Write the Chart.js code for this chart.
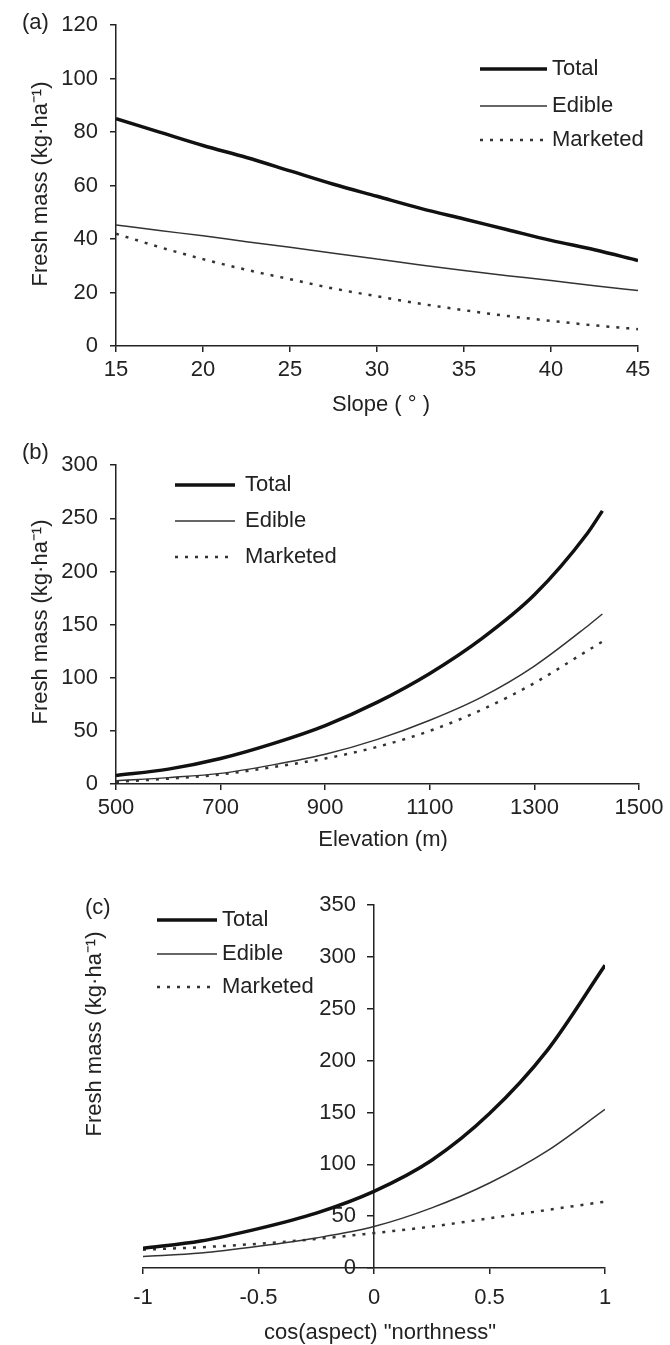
<!DOCTYPE html>
<html><head><meta charset="utf-8">
<script src="https://cdn.jsdelivr.net/npm/chart.js@4.4.1/dist/chart.umd.min.js"></script>
<style>
html,body{margin:0;padding:0;background:#fff;}
#wrap{position:relative;width:670px;height:1345px;background:#fff;}
canvas{position:absolute;left:0;}
</style></head><body>
<div id="wrap">
<canvas id="ca" width="670" height="440" style="top:0px"></canvas>
<canvas id="cb" width="670" height="440" style="top:440px"></canvas>
<canvas id="cc" width="670" height="465" style="top:880px"></canvas>
</div>
<script>
// ---- shared
const seriesNames = ['Total', 'Edible', 'Marketed'];
const yTitle = 'Fresh mass (kg·ha⁻¹)';

// ---- (a) slope
const slopeX = [15, 17.5, 20, 22.5, 25, 27.5, 30, 32.5, 35, 37.5, 40, 42.5, 45];
const slopeTotal = [85, 80, 75, 70.5, 65.5, 60.5, 56, 51.5, 47.5, 43.5, 39.5, 36, 32];
const slopeEdible = [45.3, 43.2, 41.2, 39, 36.9, 34.7, 32.5, 30.3, 28.2, 26.3, 24.5, 22.5, 20.8];
const slopeMarketed = [42, 37, 32.5, 28.5, 25, 21.5, 18.6, 15.8, 13.4, 11.2, 9.4, 7.7, 6.3];
const slopeTicksX = [15, 20, 25, 30, 35, 40, 45];
const slopeTicksY = [0, 20, 40, 60, 80, 100, 120];

// ---- (b) elevation
const elevX = [500, 600, 700, 800, 900, 1000, 1100, 1200, 1300, 1400, 1430];
const elevTotal = [8, 14, 24, 38, 55, 77, 104, 137, 178, 235, 257];
const elevEdible = [3, 6, 10, 18, 28, 42, 60, 82, 111, 148, 160];
const elevMarketed = [2, 5, 9, 16, 24, 35, 50, 70, 95, 125, 134];
const elevTicksX = [500, 700, 900, 1100, 1300, 1500];
const elevTicksY = [0, 50, 100, 150, 200, 250, 300];

// ---- (c) northness
const northX = [-1, -0.75, -0.5, -0.25, 0, 0.25, 0.5, 0.75, 1];
const northTotal = [19, 26, 38, 53, 74, 104, 149, 210, 292];
const northEdible = [11, 14.5, 21, 29, 40, 58, 82, 113, 153];
const northMarketed = [17.7, 20, 23.4, 28, 33.7, 40, 48, 56, 64];
const northTicksX = [-1, -0.5, 0, 0.5, 1];
const northTicksY = [0, 50, 100, 150, 200, 250, 300, 350];

const FONT = "'Liberation Sans', Arial, sans-serif";
Chart.defaults.font.family = FONT;
Chart.defaults.font.size = 22;
Chart.defaults.color = '#222';

const styles = [
  {borderColor: '#111', borderWidth: 3.5, borderDash: []},
  {borderColor: '#333', borderWidth: 1.5, borderDash: []},
  {borderColor: '#333', borderWidth: 2.5, borderDash: [3, 7]}
];

function datasets(xs, series) {
  return series.map((ys, i) => Object.assign({
    label: seriesNames[i],
    data: xs.map((x, j) => ({x: x, y: ys[j]})),
    pointRadius: 0,
    fill: false,
    cubicInterpolationMode: 'monotone'
  }, styles[i]));
}

const annot = {
  id: 'annot',
  afterDraw(chart, args, o) {
    const ctx = chart.ctx;
    ctx.save();
    ctx.fillStyle = '#222';
    ctx.font = '22px ' + FONT;
    ctx.textBaseline = 'middle';
    ctx.textAlign = 'left';
    ctx.fillText(o.panel, o.panelX, o.panelY);
    ctx.textAlign = 'center';
    ctx.fillText(o.xTitle, o.xTitleX, o.xTitleY);
    ctx.save();
    ctx.translate(o.yTitleX, o.yTitleY);
    ctx.rotate(-Math.PI / 2);
    ctx.fillText(yTitle, 0, 0);
    ctx.restore();
    chart.data.datasets.forEach((ds, i) => {
      const y = o.legY[i];
      ctx.save();
      ctx.strokeStyle = ds.borderColor;
      ctx.lineWidth = ds.borderWidth;
      ctx.setLineDash(ds.borderDash || []);
      ctx.beginPath();
      ctx.moveTo(o.legX0, y);
      ctx.lineTo(o.legX1, y);
      ctx.stroke();
      ctx.restore();
      ctx.textAlign = 'left';
      ctx.fillText(ds.label, o.legTextX, y);
    });
    ctx.restore();
  }
};

function axisCommon(ticksArr, extra) {
  return Object.assign({
    type: 'linear',
    afterBuildTicks: s => { s.ticks = ticksArr.map(v => ({value: v})); },
    grid: {display: true, drawOnChartArea: false, drawTicks: true, tickLength: 6, color: '#222', lineWidth: 1.5},
    border: {display: true, color: '#222', width: 1.5},
    ticks: {color: '#222', font: {size: 22}, callback: v => String(v), autoSkip: false, maxRotation: 0}
  }, extra);
}

function makeChart(id, xs, series, xr, yr, tx, ty, scaleX, scaleY, padding, annotOpts) {
  const sx = axisCommon(tx, Object.assign({min: xr[0], max: xr[1]}, scaleX));
  sx.ticks = Object.assign({}, sx.ticks, scaleX.ticksExtra || {});
  const sy = axisCommon(ty, Object.assign({min: yr[0], max: yr[1]}, scaleY));
  sy.ticks = Object.assign({}, sy.ticks, scaleY.ticksExtra || {});
  delete sx.ticksExtra; delete sy.ticksExtra;
  return new Chart(document.getElementById(id), {
    type: 'line',
    data: {datasets: datasets(xs, series)},
    options: {
      responsive: false,
      animation: false,
      devicePixelRatio: 1,
      layout: {padding: padding},
      plugins: {legend: {display: false}, tooltip: {enabled: false}, annot: annotOpts},
      scales: {x: sx, y: sy}
    },
    plugins: [annot]
  });
}

makeChart('ca', slopeX, [slopeTotal, slopeEdible, slopeMarketed], [15, 45], [0, 120], slopeTicksX, slopeTicksY,
  {afterFit: s => { s.height = 94; }, ticksExtra: {padding: 5}},
  {afterFit: s => { s.width = 116; }, ticksExtra: {padding: 12}},
  {left: 0, top: 23, right: 32, bottom: 0},
  {panel: '(a)', panelX: 22, panelY: 23, xTitle: 'Slope ( ° )', xTitleX: 381, xTitleY: 405,
   yTitleX: 41, yTitleY: 184, legX0: 480, legX1: 547, legTextX: 552, legY: [69, 106, 140]});

makeChart('cb', elevX, [elevTotal, elevEdible, elevMarketed], [500, 1500], [0, 300], elevTicksX, elevTicksY,
  {afterFit: s => { s.height = 96; }, ticksExtra: {padding: 5}},
  {afterFit: s => { s.width = 116; }, ticksExtra: {padding: 12}},
  {left: 0, top: 23, right: 31, bottom: 0},
  {panel: '(b)', panelX: 22, panelY: 13, xTitle: 'Elevation (m)', xTitleX: 383, xTitleY: 400,
   yTitleX: 41, yTitleY: 182, legX0: 175, legX1: 235, legTextX: 245, legY: [45, 81, 117]});

// y axis of (c) sits at x = 0; shift its labels left of the axis line
const shiftCenterLabels = s => {
  if (s._shiftWrapped) return;
  s._shiftWrapped = true;
  const orig = s._computeLabelItems.bind(s);
  s._computeLabelItems = ca => orig(ca).map(it => {
    it.options.translation[0] -= 18;
    it.options.textAlign = 'right';
    return it;
  });
};

makeChart('cc', northX, [northTotal, northEdible, northMarketed], [-1, 1], [0, 350], northTicksX, northTicksY,
  {afterFit: s => { s.height = 77; }, ticksExtra: {padding: 11}},
  {position: {x: 0}, afterUpdate: shiftCenterLabels, ticksExtra: {padding: 12}},
  {left: 143, top: 25, right: 65, bottom: 0},
  {panel: '(c)', panelX: 85, panelY: 28, xTitle: 'cos(aspect) "northness"', xTitleX: 380, xTitleY: 453,
   yTitleX: 95, yTitleY: 154, legX0: 157, legX1: 217, legTextX: 222, legY: [40, 74, 107]});
</script>
</body></html>
